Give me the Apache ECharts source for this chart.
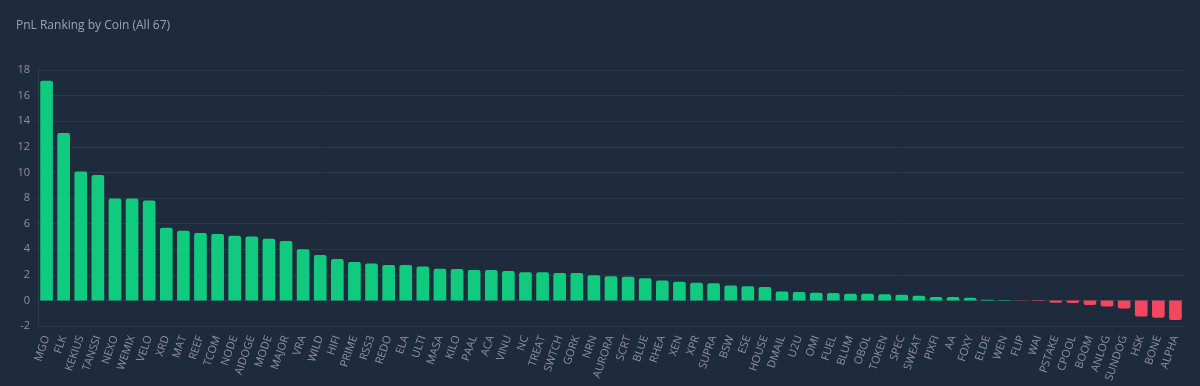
<!DOCTYPE html>
<html lang="en">
<head>
    <meta charset="UTF-8">
    <title>PnL Ranking</title>
    <script src="https://cdn.jsdelivr.net/npm/echarts@6/dist/echarts.min.js"></script>
    <style>
        html, body { margin: 0; padding: 0; background: #1e2b3c; }
    </style>
</head>
<body>
    <div id="main" style="width: 1200px;height:386px;"></div>
    <script type="text/javascript">
        // coins, sorted by pnl
        var coins = ['MGO','FLK','KEKIUS','TANSSI','NEXO','WEMIX','VELO','XRD','MAT','REEF',
            'TCOM','NODE','AIDOGE','MODE','MAJOR','VRA','WILD','HIFI','PRIME','RSS3',
            'REDO','ELA','ULTI','MASA','KILO','PAAL','ACA','VINU','NC','TREAT',
            'SWTCH','GORK','NRN','AURORA','SCRT','BLUE','RHEA','XEN','XPR','SUPRA',
            'BSW','ESE','HOUSE','DMAIL','U2U','OMI','FUEL','BLUM','OBOL','TOKEN',
            'SPEC','SWEAT','PIXFI','AA','FOXY','ELDE','WEN','FLIP','WAI','PSTAKE',
            'CPOOL','BOOM','ANLOG','SUNDOG','HSK','BONE','ALPHA'];

        var pnl = [17.16, 13.07, 10.08, 9.79, 7.97, 7.97, 7.81, 5.68, 5.45, 5.26,
            5.18, 5.05, 5.0, 4.82, 4.64, 3.99, 3.55, 3.23, 3.0, 2.89,
            2.77, 2.77, 2.64, 2.48, 2.46, 2.38, 2.38, 2.30, 2.2, 2.2,
            2.15, 2.15, 1.96, 1.88, 1.84, 1.73, 1.55, 1.45, 1.37, 1.34,
            1.16, 1.10, 1.05, 0.70, 0.65, 0.60, 0.58, 0.51, 0.51, 0.48,
            0.45, 0.37, 0.27, 0.27, 0.2, 0.05, 0.04, -0.03, -0.04, -0.18,
            -0.2, -0.36, -0.47, -0.63, -1.25, -1.35, -1.54];

        var yTicks = { min: -2, max: 18, step: 2 };

        var myChart = echarts.init(document.getElementById('main'));

        var option = {
            backgroundColor: '#1e2b3c',
            textStyle: { fontFamily: 'Open Sans, sans-serif' },
            title: {
                text: 'PnL Ranking by Coin (All 67)',
                left: 11,
                top: 15,
                textStyle: { color: '#9aa4b1', fontSize: 12, fontWeight: 'normal' }
            },
            grid: { left: 38, right: 16, top: 70, bottom: 60 },
            xAxis: {
                type: 'category',
                data: coins,
                axisLine: { onZero: false, lineStyle: { color: '#2d3b4d' } },
                axisTick: { show: false },
                axisLabel: { color: '#8792a1', fontSize: 11, rotate: 71, interval: 0, margin: 10 }
            },
            yAxis: {
                type: 'value',
                min: yTicks.min,
                max: yTicks.max,
                interval: yTicks.step,
                axisLine: { show: true, lineStyle: { color: '#2d3b4d' } },
                axisLabel: { color: '#8792a1', fontSize: 11, margin: 8 },
                splitLine: { lineStyle: { color: '#2b394b' } }
            },
            series: [{
                type: 'bar',
                barCategoryGap: '26%',
                data: pnl.map(function (v) {
                    return {
                        value: v,
                        itemStyle: {
                            color: v >= 0 ? '#10cb7f' : '#f5465f',
                            borderRadius: v >= 0 ? [2, 2, 0, 0] : [0, 0, 2, 2]
                        }
                    };
                })
            }]
        };

        myChart.setOption(option);
    </script>
</body>
</html>
